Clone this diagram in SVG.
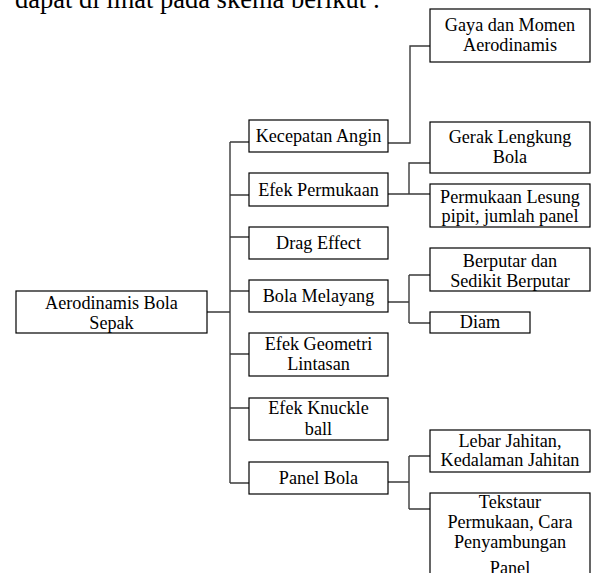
<svg xmlns="http://www.w3.org/2000/svg" width="593" height="573" viewBox="0 0 593 573">
<style>
.b{fill:#fff;stroke:#000;stroke-width:1.2}
.t{font-family:"Liberation Serif","Times New Roman",serif;font-size:18.2px;fill:#000;text-anchor:middle}
.c{fill:none;stroke:#3a3a3a;stroke-width:1.4}
</style>
<rect width="593" height="573" fill="#fff"/>
<text x="15" y="8" style="font-family:'Liberation Serif','Times New Roman',serif;font-size:26.5px;fill:#000">dapat di lihat pada skema berikut :</text>
<g id="connectors">
<path class="c" d="M207,312H230M230,142V483M230,142H249M230,195H249M230,237H249M230,291H249M230,354H249M230,408H249M230,483H249"/>
<path class="c" d="M388,143H410V46H430"/>
<path class="c" d="M388,194H430M409,194V163H430"/>
<path class="c" d="M388,302H409M409,275V323M409,275H430M409,323H430"/>
<path class="c" d="M388,482H409M409,456V509M409,456H430M409,509H430"/>
</g>
<g id="root"><rect class="b" x="16" y="291" width="191" height="42"/><text class="t" x="111.5" y="309">Aerodinamis Bola</text><text class="t" x="111.5" y="329">Sepak</text></g>
<g id="kecepatan"><rect class="b" x="249" y="120" width="139" height="32"/><text class="t" x="318.5" y="142">Kecepatan Angin</text></g>
<g id="efek-permukaan"><rect class="b" x="249" y="173" width="139" height="33"/><text class="t" x="318.5" y="196">Efek Permukaan</text></g>
<g id="drag"><rect class="b" x="249" y="227" width="139" height="32"/><text class="t" x="318.5" y="249">Drag Effect</text></g>
<g id="bola-melayang"><rect class="b" x="249" y="280" width="139" height="32"/><text class="t" x="318.5" y="302">Bola Melayang</text></g>
<g id="efek-geometri"><rect class="b" x="249" y="333" width="139" height="43"/><text class="t" x="318.5" y="350">Efek Geometri</text><text class="t" x="318.5" y="370">Lintasan</text></g>
<g id="efek-knuckle"><rect class="b" x="249" y="398" width="139" height="42"/><text class="t" x="318.5" y="414">Efek Knuckle</text><text class="t" x="318.5" y="435">ball</text></g>
<g id="panel-bola"><rect class="b" x="249" y="462" width="139" height="32"/><text class="t" x="318.5" y="484">Panel Bola</text></g>
<g id="gaya"><rect class="b" x="430" y="9" width="160" height="53"/><text class="t" x="510" y="31">Gaya dan Momen</text><text class="t" x="510" y="51">Aerodinamis</text></g>
<g id="gerak"><rect class="b" x="430" y="122" width="160" height="51"/><text class="t" x="510" y="143">Gerak Lengkung</text><text class="t" x="510" y="163">Bola</text></g>
<g id="lesung"><rect class="b" x="430" y="184" width="160" height="43"/><text class="t" x="510" y="203">Permukaan Lesung</text><text class="t" x="510" y="222">pipit, jumlah panel</text></g>
<g id="berputar"><rect class="b" x="430" y="248" width="160" height="43"/><text class="t" x="510" y="267">Berputar dan</text><text class="t" x="510" y="287">Sedikit Berputar</text></g>
<g id="diam"><rect class="b" x="430" y="312" width="100" height="21"/><text class="t" x="480" y="328">Diam</text></g>
<g id="lebar"><rect class="b" x="430" y="430" width="160" height="42"/><text class="t" x="510" y="447">Lebar Jahitan,</text><text class="t" x="510" y="466">Kedalaman Jahitan</text></g>
<g id="tekstaur"><rect class="b" x="430" y="493" width="160" height="95"/><text class="t" x="510" y="508">Tekstaur</text><text class="t" x="510" y="528">Permukaan, Cara</text><text class="t" x="510" y="548">Penyambungan</text><text class="t" x="510" y="574">Panel</text></g>
</svg>
